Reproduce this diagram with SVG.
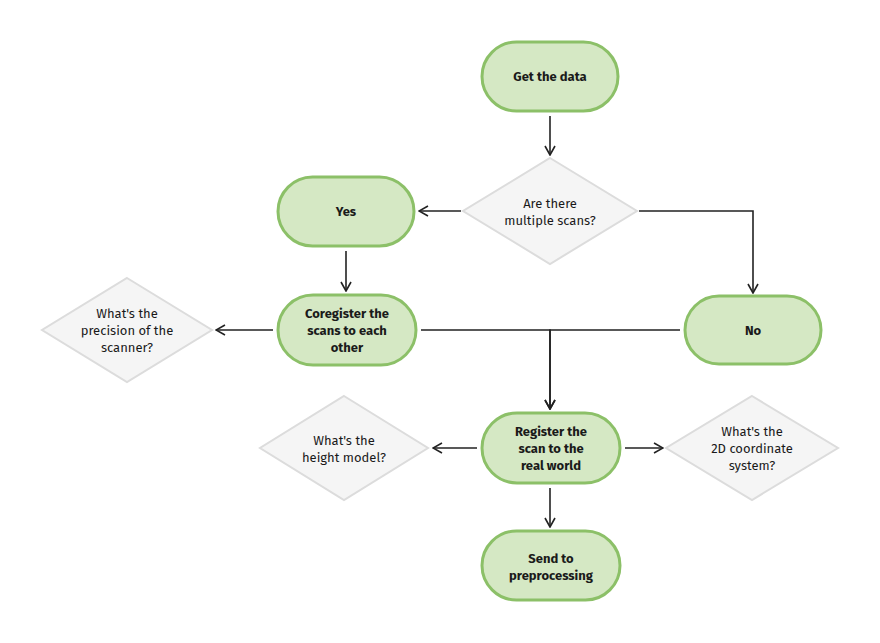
<svg xmlns="http://www.w3.org/2000/svg" width="880" height="643" viewBox="0 0 880 643">
<style>
.term{fill:#d5e8c4;stroke:#8cc068;stroke-width:3}
.dec{fill:#f5f5f5;stroke:#dcdcdc;stroke-width:2}
.tb{font-family:"Fira Sans","Noto Sans",sans-serif;font-size:13px;font-weight:bold;fill:#1a1a1a;text-anchor:middle;dominant-baseline:central}
.tn{font-family:"Fira Sans","Noto Sans",sans-serif;font-size:13px;fill:#1a1a1a;text-anchor:middle;dominant-baseline:central}
.c{fill:none;stroke:#222;stroke-width:1.6}
</style>
<defs>
<marker id="ar" viewBox="0 0 12 12" refX="11" refY="6" markerWidth="12" markerHeight="12" markerUnits="userSpaceOnUse" orient="auto">
<polyline points="2,1 11,6 2,11" fill="none" stroke="#222" stroke-width="1.6"/>
</marker>
</defs>
<rect width="880" height="643" fill="#ffffff"/>
<g id="connectors">
<path class="c" d="M550,116 V155" marker-end="url(#ar)"/>
<path class="c" d="M461,211 H419" marker-end="url(#ar)"/>
<path class="c" d="M639,211 H753 V293" marker-end="url(#ar)"/>
<path class="c" d="M346,251 V291" marker-end="url(#ar)"/>
<path class="c" d="M273,330 H216" marker-end="url(#ar)"/>
<path class="c" d="M421,330 H550 V409" marker-end="url(#ar)"/>
<path class="c" d="M680,330 H550 V409" marker-end="url(#ar)"/>
<path class="c" d="M477,448 H433" marker-end="url(#ar)"/>
<path class="c" d="M625,448 H663" marker-end="url(#ar)"/>
<path class="c" d="M550,488 V527" marker-end="url(#ar)"/>
</g>
<g id="get-data">
<rect class="term" x="482" y="42" width="136" height="69" rx="34.5"/>
<text class="tb" x="550" y="76.5">Get the data</text>
</g>
<g id="multiple-scans">
<polygon class="dec" points="550,158 637,211 550,264 463,211"/>
<text class="tn" x="550" y="203">Are there</text>
<text class="tn" x="550" y="220">multiple scans?</text>
</g>
<g id="yes">
<rect class="term" x="278" y="177" width="136" height="69" rx="34.5"/>
<text class="tb" x="346" y="211.5">Yes</text>
</g>
<g id="coregister">
<rect class="term" x="278" y="295" width="138" height="70" rx="35"/>
<text class="tb" x="347" y="313">Coregister the</text>
<text class="tb" x="347" y="330">scans to each</text>
<text class="tb" x="347" y="347">other</text>
</g>
<g id="no">
<rect class="term" x="685" y="296" width="136" height="68" rx="34"/>
<text class="tb" x="753" y="330">No</text>
</g>
<g id="precision">
<polygon class="dec" points="127,278 212,330 127,382 42,330"/>
<text class="tn" x="127" y="313">What's the</text>
<text class="tn" x="127" y="330">precision of the</text>
<text class="tn" x="127" y="347">scanner?</text>
</g>
<g id="register">
<rect class="term" x="482" y="413" width="138" height="70" rx="35"/>
<text class="tb" x="551" y="431">Register the</text>
<text class="tb" x="551" y="448">scan to the</text>
<text class="tb" x="551" y="465">real world</text>
</g>
<g id="height-model">
<polygon class="dec" points="344,396 428,448 344,500 260,448"/>
<text class="tn" x="344" y="440">What's the</text>
<text class="tn" x="344" y="457">height model?</text>
</g>
<g id="coord-system">
<polygon class="dec" points="752,396 838,448 752,500 666,448"/>
<text class="tn" x="752" y="431">What's the</text>
<text class="tn" x="752" y="448">2D coordinate</text>
<text class="tn" x="752" y="465">system?</text>
</g>
<g id="send">
<rect class="term" x="482" y="531" width="138" height="69" rx="34.5"/>
<text class="tb" x="551" y="558">Send to</text>
<text class="tb" x="551" y="575">preprocessing</text>
</g>
</svg>
